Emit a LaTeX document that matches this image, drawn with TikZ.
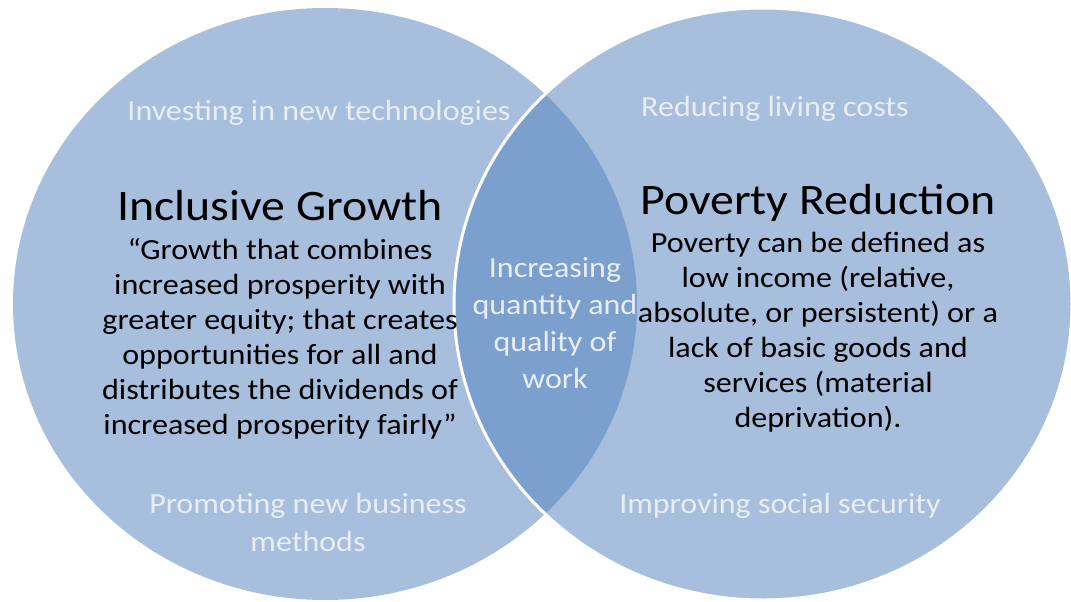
\documentclass[tikz,border=0pt]{standalone}
\usepackage{fontspec}
\setmainfont{Carlito}[FakeStretch=1.1]
\begin{document}
\definecolor{setfill}{HTML}{A7BFDD}
\definecolor{lensfill}{HTML}{7BA0CD}
\definecolor{softtext}{HTML}{E9EEF6}
\tikzset{
  setshape/.style={fill=setfill, draw=none},
  title/.style={font=\fontsize{43.5}{52}\selectfont, text=black, inner sep=0pt, anchor=base},
  bodytext/.style={font=\fontsize{29.2}{35}\selectfont, text=black, inner sep=0pt, anchor=base},
  softlabel/.style={font=\fontsize{29.1}{38}\selectfont, text=softtext, inner sep=0pt, anchor=base},
}
\begin{tikzpicture}[x=1pt, y=-1pt]
  \useasboundingbox (0,0) rectangle (1071,602);
  % the two sets
  \coordinate (lc) at (325,304);
  \coordinate (rc) at (763,304);
  \fill[setshape] (lc) ellipse [x radius=312, y radius=296];
  \fill[setshape] (rc) ellipse [x radius=309, y radius=296];
  % overlap
  \begin{scope}
    \clip (lc) ellipse [x radius=312, y radius=296];
    \fill[lensfill] (rc) ellipse [x radius=309, y radius=296];
  \end{scope}
  \draw[white, line width=3pt] (rc) ellipse [x radius=309, y radius=296];

  % left set
  \node[softlabel] (invest) at (319,120) {Investing in new technologies};
  \node[title] (ig) at (280,220) {Inclusive Growth};
  \foreach \t [count=\i from 0] in {{“Growth that combines}, {increased prosperity with},
      {greater equity; that creates}, {opportunities for all and},
      {distributes the dividends of}, {increased prosperity fairly”}}
    \node[bodytext] (igdef\i) at (280,259+35*\i) {\t};
  \node[softlabel] (promo1) at (308,513) {Promoting new business};
  \node[softlabel] (promo2) at (308,551) {methods};

  % right set
  \node[softlabel] (costs) at (775,116) {Reducing living costs};
  \node[title] (pr) at (818,214) {Poverty Reduction};
  \foreach \t [count=\i from 0] in {{Poverty can be defined as}, {low income (relative,},
      {absolute, or persistent) or a}, {lack of basic goods and},
      {services (material}, {deprivation).}}
    \node[bodytext] (prdef\i) at (818,252+35*\i) {\t};
  \node[softlabel] (social) at (780,513) {Improving social security};

  % overlap
  \foreach \t [count=\i from 0] in {Increasing, quantity and, quality of, work}
    \node[softlabel] (work\i) at (555,277+37*\i) {\t};
\end{tikzpicture}
\end{document}
